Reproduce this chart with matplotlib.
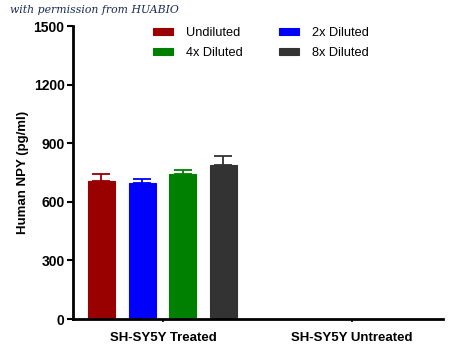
import numpy as np
import matplotlib.pyplot as plt

plt.rcParams['font.family'] = ['Liberation Sans', 'DejaVu Sans']

groups = ['SH-SY5Y Treated', 'SH-SY5Y Untreated']
series = ['Undiluted', '2x Diluted', '4x Diluted', '8x Diluted']
means = [705, 695, 742, 786]
errs = [37, 20, 22, 50]
colors = ['#990000', '#0000ff', '#008000', '#333333']

fig = plt.figure(figsize=(4.5, 3.57), dpi=100)
ax = fig.add_axes([0.162, 0.1064, 0.822, 0.8207])

offsets = [-0.325, -0.108, 0.104, 0.32]
handles = []
for i in range(len(series)):
    b = ax.bar(0 + offsets[i], means[i], width=0.143, color=colors[i],
               edgecolor=colors[i], linewidth=0.8, label=series[i], zorder=2)
    ax.errorbar(0 + offsets[i], means[i], yerr=[[0], [errs[i]]], fmt='none',
                ecolor=colors[i], elinewidth=1.3, capsize=6.5, capthick=1.3, zorder=1)
    handles.append(b)

ax.set_xlim(-0.476, 1.48)
ax.set_ylim(0, 1500)
ax.set_yticks([0, 300, 600, 900, 1200, 1500])
ax.set_xticks([0, 1])
ax.set_xticklabels(groups, fontsize=9.5, fontweight='bold')
ax.tick_params(axis='y', labelsize=10, width=1.5, length=4, pad=2)
for t in ax.get_yticklabels():
    t.set_fontweight('bold')
ax.tick_params(axis='x', width=1.2, length=2, pad=7)
ax.set_ylabel('Human NPY (pg/ml)', fontsize=9.5, fontweight='bold', labelpad=3)

for s in ['top', 'right']:
    ax.spines[s].set_visible(False)
ax.spines['left'].set_linewidth(2)
ax.spines['bottom'].set_linewidth(2)

# legend fills column-wise, so order to get rows: Undiluted/2x, 4x/8x
order = [0, 2, 1, 3]
fig.legend(handles=[handles[k] for k in order], labels=[series[k] for k in order],
           ncol=2, frameon=False, borderpad=0, borderaxespad=0,
           loc='upper left', bbox_to_anchor=(0.34, 0.924),
           fontsize=9.2, handlelength=1.55, handleheight=0.5,
           columnspacing=2.9, labelspacing=0.6, handletextpad=1.0)

fig.text(0.022, 0.985, 'with permission from HUABIO', fontsize=7.8,
         family='DejaVu Serif', style='italic', color='#1a2a5a', va='top')

fig.savefig('out.png', dpi=100)
